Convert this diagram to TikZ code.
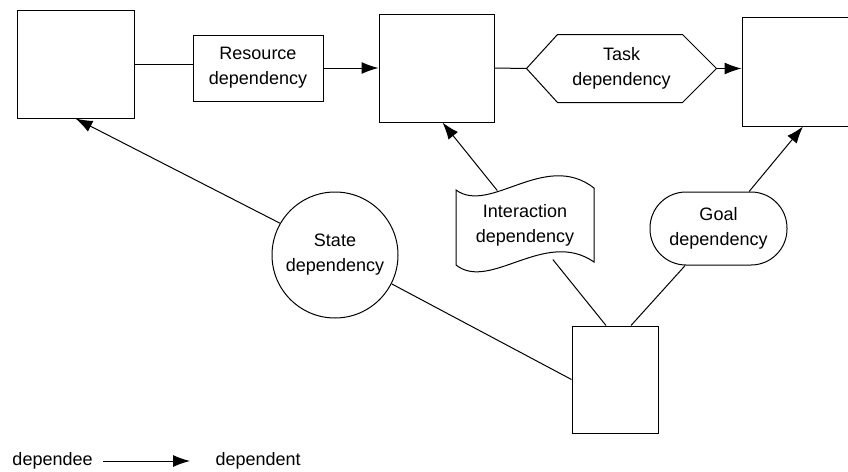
\documentclass[tikz,border=0pt]{standalone}
\usepackage{fontspec}
\setmainfont{Liberation Sans}
\usetikzlibrary{arrows.meta}
\tikzset{
  every node/.style={font=\fontsize{18}{25}\selectfont, align=center},
  actor/.style={draw, inner sep=0pt},
  depnode/.style={draw, inner sep=0pt},
  dependee/.style={-{Latex[length=17pt,width=12pt]}}
}

\begin{document}
\begin{tikzpicture}[x=1pt,y=-1pt,line width=1pt]
\path[use as bounding box,clip] (0,0) rectangle (848,471);
\node[actor,minimum width=117,minimum height=108] (a) at (75.5,64) {};
\node[actor,minimum width=115,minimum height=108] (b) at (436.5,68) {};
\node[actor,minimum width=122,minimum height=109] (c) at (803,71.5) {};
\node[actor,minimum width=86,minimum height=107] (d) at (615,379.5) {};
\node[depnode,minimum width=130,minimum height=66] (r) at (258,68) {Resource\\dependency};
\node[inner sep=0pt,minimum width=189,minimum height=67] (t) at (621.5,68.5) {Task\\dependency};
\draw (t.west) -- ([xshift=31]t.north west) -- ([xshift=-34]t.north east) -- (t.east)
  -- ([xshift=-34]t.south east) -- ([xshift=31]t.south west) -- cycle;
\node[depnode,circle,minimum size=126] (s) at (335,255) {State\\dependency};
\node[depnode,rounded corners=36,minimum width=137,minimum height=73] (g) at (718.5,228.5) {Goal\\dependency};
\node[inner sep=0pt,minimum width=138,minimum height=68] (f) at (525,225) {Interaction\\dependency};
\draw (456,190) .. controls (490,215) and (545,150) .. (594,188) -- (594,262)
  .. controls (545,228) and (490,292) .. (456,265) -- cycle;
% links
\draw (a.east) -- (a.east -| r.west);
\draw[dependee] (r.east) -- (r.east -| b.west);
\draw (b.east) -- (t.west);
\draw[dependee] (t.east) -- (t.east -| c.west);
\draw[dependee] (s.150) -- (a.south);
\draw (s.-27) -- (d.west);
\draw[dependee] (f) -- ([xshift=6]b.south);
\draw (f) -- ([xshift=-9]d.north);
\draw[dependee] (g) -- (c.south);
\draw (g) -- ([xshift=16]d.north);
% legend
\node[inner sep=0pt,anchor=west] (dee) at (12,461) {dependee};
\node[inner sep=0pt,anchor=west] (dent) at (215,461) {dependent};
\draw[dependee,shorten <=10pt,shorten >=25pt] (dee) -- (dent);
\end{tikzpicture}
\end{document}
